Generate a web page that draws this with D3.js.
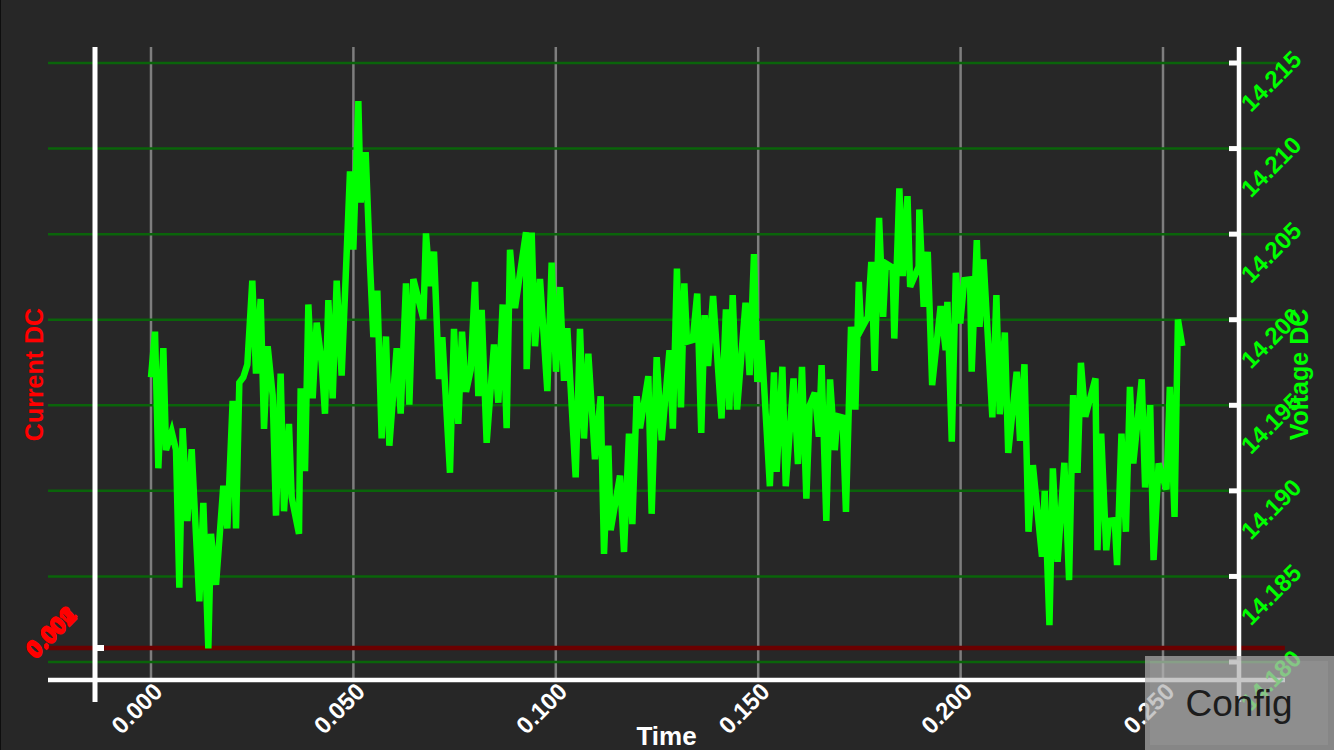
<!DOCTYPE html>
<html><head><meta charset="utf-8">
<script src="https://cdn.jsdelivr.net/npm/d3@7"></script>
<style>html,body{margin:0;padding:0;background:#272727;overflow:hidden}</style>
</head><body><svg id="c" width="1334" height="750"></svg>
<script>
// ---- data ----
const timeS = [
0.00000,0.00099,0.00181,0.00305,0.00371,0.00511,0.00618,0.00700,0.00782,0.00898,
0.01005,0.01194,0.01293,0.01416,0.01482,0.01606,0.01787,0.01886,0.02017,0.02100,
0.02182,0.02281,0.02380,0.02503,0.02594,0.02709,0.02792,0.02882,0.03006,0.03088,
0.03203,0.03286,0.03409,0.03475,0.03656,0.03697,0.03804,0.03887,0.03994,0.04093,
0.04216,0.04298,0.04381,0.04488,0.04587,0.04710,0.04916,0.04998,0.05122,0.05180,
0.05303,0.05410,0.05493,0.05591,0.05698,0.05805,0.05888,0.06069,0.06168,0.06299,
0.06382,0.06481,0.06728,0.06793,0.06892,0.06991,0.07115,0.07197,0.07386,0.07485,
0.07592,0.07683,0.07782,0.07897,0.08004,0.08086,0.08169,0.08292,0.08473,0.08580,
0.08687,0.08786,0.08869,0.08992,0.09264,0.09280,0.09404,0.09486,0.09610,0.09791,
0.09898,0.10005,0.10104,0.10203,0.10285,0.10491,0.10598,0.10697,0.10804,0.10968,
0.11108,0.11191,0.11298,0.11355,0.11586,0.11685,0.11808,0.11891,0.11998,0.12080,
0.12286,0.12368,0.12492,
0.12616,0.12808,0.12892,0.12992,0.13092,0.13175,0.13242,0.13384,0.13493,0.13593,
0.13677,0.13760,0.13885,0.14094,0.14203,0.14286,0.14370,0.14478,0.14687,0.14787,
0.14896,0.14979,0.15080,0.15288,0.15389,0.15455,0.15597,0.15681,0.15873,0.15982,
0.16082,0.16190,0.16274,0.16399,0.16499,0.16566,0.16683,0.16775,0.16892,0.16959,
0.17084,0.17168,0.17293,0.17401,0.17485,0.17543,0.17710,0.17794,0.17877,0.17986,
0.18086,0.18153,0.18320,0.18362,0.18487,0.18570,0.18688,0.18754,0.18963,0.18980,
0.19088,0.19188,0.19297,0.19506,0.19631,0.19673,0.19782,0.19882,0.19991,0.20090,
0.20233,0.20274,0.20400,0.20467,0.20567,0.20784,0.20884,0.20968,0.21093,0.21176,
0.21385,0.21468,0.21577,0.21677,0.21786,0.22011,0.22078,0.22195,0.22279,0.22396,
0.22563,0.22680,0.22780,0.22888,0.22972,0.23080,0.23331,0.23381,0.23473,0.23598,
0.23665,0.23807,0.23865,0.23974,0.24083,0.24183,0.24266,0.24475,0.24558,0.24684,
0.24767,0.24892,0.25085,0.25168,0.25285,0.25369,0.25477];

const voltageDC = [
14.19664,14.19930,14.19132,14.19834,14.19238,14.19345,14.19238,14.18434,14.19366,14.18823,
14.19243,14.18355,14.18930,14.18079,14.18749,14.18451,14.19030,14.18781,14.19526,14.18781,
14.19632,14.19664,14.19738,14.20228,14.19685,14.20121,14.19362,14.19845,14.19557,14.18855,
14.19685,14.18881,14.19391,14.18962,14.18749,14.19600,14.19115,14.20089,14.19540,14.19983,
14.19749,14.19451,14.20115,14.19540,14.20228,14.19674,14.20866,14.20409,14.21277,14.20685,
14.20979,14.20323,14.19898,14.20170,14.19306,14.19902,14.19264,14.19834,14.19451,14.20213,
14.19504,14.20238,14.20004,14.20504,14.20196,14.20398,14.19653,14.19898,14.19106,14.19947,
14.19391,14.19930,14.19579,14.19706,14.20221,14.19553,14.20057,14.19281,14.19855,14.19515,
14.20089,14.19366,14.20409,14.20068,14.20511,14.19711,14.20509,14.19845,14.20238,14.19583,
14.20334,14.19696,14.20191,14.19643,14.19951,14.19079,14.19947,14.19306,14.19802,14.19185,
14.19553,14.18632,14.19264,14.18770,14.19089,14.18643,14.19334,14.18806,14.19553,14.19366,
14.19670,14.18866,14.19781,
14.19296,14.19822,14.19364,14.20299,14.19487,14.20212,14.19871,14.19881,14.20153,14.19339,
14.20027,14.19729,14.20138,14.19423,14.20060,14.19475,14.20144,14.19475,14.20099,14.19676,
14.20383,14.19637,14.19881,14.19027,14.19692,14.19111,14.19725,14.19027,14.19657,14.19156,
14.19725,14.18955,14.19501,14.19573,14.19316,14.19735,14.18825,14.19651,14.19238,14.19437,
14.19429,14.18877,14.19959,14.19475,14.20221,14.19943,14.20017,14.20338,14.19701,14.20595,
14.20017,14.20329,14.20305,14.19890,14.20767,14.20255,14.20722,14.20192,14.20309,14.20644,
14.20075,14.20397,14.19618,14.20079,14.19822,14.20105,14.19287,14.20274,14.19978,14.20231,
14.20235,14.19696,14.20465,14.19959,14.20352,14.19429,14.20144,14.19448,14.19925,14.19222,
14.19696,14.19292,14.19740,14.18761,14.19150,14.18615,14.19000,14.18215,14.19131,14.18585,
14.19164,14.18478,14.19559,14.19105,14.19748,14.19433,14.19657,14.18653,14.19335,14.18653,
14.18825,14.18829,14.18566,14.19335,14.18761,14.19608,14.19160,14.19651,14.19020,14.19501,
14.18595,14.19160,14.19008,14.19608,14.18848,14.20001,14.19846];

const currentTime = [-0.0254, 0.2801];
const currentDC = [0, 0];

const timeTicks = [0, 0.05, 0.10, 0.15, 0.20, 0.25];
const voltTicks = [14.180, 14.185, 14.190, 14.195, 14.200, 14.205, 14.210, 14.215];
const currentTicks = [-0.002, -0.001, 0.000, 0.001, 0.002];

// ---- layout ----
const W = 1334, H = 750;
const frameTop = 47, frameBottom = 702, xAxisY = 680;
const frameLeft = 48, frameRight = 1285, gridRight = 1278;
const leftAxisX = 95, rightAxisX = 1239;
const FONT = "'Liberation Sans', Arial, Helvetica, sans-serif";

const x = d3.scaleLinear().domain([0, 0.25]).range([151, 1163]);
const yV = d3.scaleLinear().domain([14.180, 14.215]).range([662, 63]);
const yC = d3.scaleLinear().domain([-0.002, 0.002]).range([649.5, 646.5]);
const fmt3 = d3.format(".3f");

const svg = d3.select("#c");
svg.append("rect").attr("width", W).attr("height", H).attr("fill", "#272727");
svg.append("rect").attr("width", 1).attr("height", H).attr("fill", "#0e0e0e");

// vertical grid
svg.append("g").selectAll("line").data(timeTicks).join("line")
  .attr("x1", d => x(d)).attr("x2", d => x(d))
  .attr("y1", frameTop).attr("y2", xAxisY)
  .attr("stroke", "#7e7e7e").attr("stroke-width", 2.5);

// horizontal grid (voltage)
svg.append("g").selectAll("line").data(voltTicks).join("line")
  .attr("x1", frameLeft).attr("x2", gridRight)
  .attr("y1", d => yV(d)).attr("y2", d => yV(d))
  .attr("stroke", "#0a640a").attr("stroke-width", 2.5);

// current series
const curData = currentTime.map((t, i) => [t, currentDC[i]]);
svg.append("path").datum(curData)
  .attr("d", d3.line().x(d => x(d[0])).y(d => yC(d[1])))
  .attr("fill", "none").attr("stroke", "#6a0000").attr("stroke-width", 4.5);

// voltage series
const vData = timeS.map((t, i) => [t, voltageDC[i]]);
svg.append("path").datum(vData)
  .attr("d", d3.line().x(d => x(d[0])).y(d => yV(d[1])))
  .attr("fill", "none").attr("stroke", "#00ff00").attr("stroke-width", 6.5)
  .attr("stroke-linejoin", "miter").attr("stroke-miterlimit", 4);

// axes lines
svg.append("line").attr("x1", frameLeft).attr("x2", frameRight).attr("y1", xAxisY).attr("y2", xAxisY)
  .attr("stroke", "#fff").attr("stroke-width", 4.5);
svg.append("line").attr("x1", leftAxisX).attr("x2", leftAxisX).attr("y1", frameTop).attr("y2", frameBottom)
  .attr("stroke", "#fff").attr("stroke-width", 5);
svg.append("line").attr("x1", rightAxisX).attr("x2", rightAxisX).attr("y1", frameTop).attr("y2", frameBottom)
  .attr("stroke", "#fff").attr("stroke-width", 4.5);

// right ticks
svg.append("g").selectAll("line").data(voltTicks).join("line")
  .attr("x1", rightAxisX - 10).attr("x2", rightAxisX)
  .attr("y1", d => yV(d)).attr("y2", d => yV(d))
  .attr("stroke", "#fff").attr("stroke-width", 5);
// left ticks
svg.append("g").selectAll("line").data([0]).join("line")
  .attr("x1", leftAxisX).attr("x2", leftAxisX + 9)
  .attr("y1", d => yC(d)).attr("y2", d => yC(d))
  .attr("stroke", "#fff").attr("stroke-width", 6);

// tick labels
svg.append("g").selectAll("text").data(timeTicks).join("text")
  .attr("transform", d => `translate(${x(d) + 13},693) rotate(-45)`)
  .attr("text-anchor", "end").attr("fill", "#fff")
  .attr("font-family", FONT).attr("font-weight", "bold").attr("font-size", 24)
  .text(d => fmt3(d));

svg.append("g").selectAll("text").data(voltTicks).join("text")
  .attr("transform", d => `translate(${rightAxisX + 12},${yV(d) + 50}) rotate(-45)`)
  .attr("text-anchor", "start").attr("fill", "#00ff00")
  .attr("font-family", FONT).attr("font-weight", "bold").attr("font-size", 24)
  .text(d => fmt3(d));

svg.append("g").selectAll("text").data(currentTicks).join("text")
  .attr("transform", d => `translate(${leftAxisX - 17},${yC(d) - 31}) rotate(-45)`)
  .attr("text-anchor", "end").attr("fill", "#ff0000")
  .attr("font-family", FONT).attr("font-weight", "bold").attr("font-size", 24)
  .text(d => fmt3(Math.abs(d)));

// titles
const midY = (frameTop + frameBottom) / 2;
svg.append("text").attr("transform", `translate(43,${midY}) rotate(-90)`)
  .attr("text-anchor", "middle").attr("fill", "#ff0000")
  .attr("font-family", FONT).attr("font-weight", "bold").attr("font-size", 25)
  .text("Current DC");
svg.append("text").attr("transform", `translate(1308,${midY}) rotate(-90)`)
  .attr("text-anchor", "middle").attr("fill", "#00ff00")
  .attr("font-family", FONT).attr("font-weight", "bold").attr("font-size", 25)
  .text("Voltage DC");
svg.append("text").attr("x", (frameLeft + frameRight) / 2).attr("y", 745)
  .attr("text-anchor", "middle").attr("fill", "#fff")
  .attr("font-family", FONT).attr("font-weight", "bold").attr("font-size", 26)
  .text("Time");

// Config button
const btn = svg.append("g");
btn.append("rect").attr("x", 1145).attr("y", 656).attr("width", 189).attr("height", 94)
  .attr("fill", "rgb(172,172,172)").attr("fill-opacity", 0.72);
btn.append("rect").attr("x", 1150).attr("y", 661).attr("width", 178).attr("height", 84)
  .attr("fill", "#fff").attr("fill-opacity", 0.07);
btn.append("text").attr("x", 1239).attr("y", 716).attr("text-anchor", "middle")
  .attr("fill", "#1c1c1c").attr("font-family", FONT).attr("font-size", 37)
  .text("Config");
</script></body></html>
